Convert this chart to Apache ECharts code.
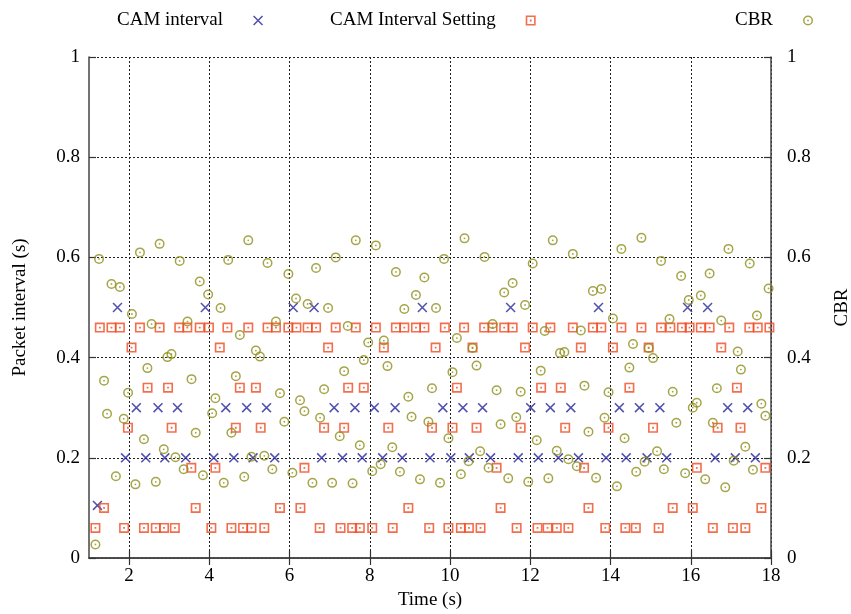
<!DOCTYPE html>
<html>
<head>
<meta charset="utf-8">
<script src="https://cdn.jsdelivr.net/npm/echarts@6/dist/echarts.min.js"></script>
<style>html,body{margin:0;padding:0;background:#fff}#c{width:851px;height:614px}</style>
</head>
<body>
<div id="c"></div>
<script>
var xTicks = [2, 4, 6, 8, 10, 12, 14, 16, 18];
var camInterval = [[1.21,0.105],[1.71,0.5],[1.91,0.2],[2.18,0.3],[2.415,0.2],[2.72,0.3],[2.89,0.2],[3.205,0.3],[3.41,0.2],[3.9,0.5],[4.11,0.2],[4.41,0.3],[4.61,0.2],[4.93,0.3],[5.09,0.2],[5.425,0.3],[5.63,0.2],[6.09,0.5],[6.61,0.5],[6.8,0.2],[7.11,0.3],[7.32,0.2],[7.63,0.3],[7.81,0.2],[8.11,0.3],[8.32,0.2],[8.63,0.3],[8.81,0.2],[9.31,0.5],[9.5,0.2],[9.82,0.3],[10.02,0.2],[10.32,0.3],[10.48,0.2],[10.81,0.3],[11.01,0.2],[11.51,0.5],[11.7,0.2],[12.01,0.3],[12.2,0.2],[12.5,0.3],[12.7,0.2],[13.01,0.3],[13.2,0.2],[13.7,0.5],[13.89,0.2],[14.22,0.3],[14.39,0.2],[14.72,0.3],[14.91,0.2],[15.23,0.3],[15.4,0.2],[15.92,0.5],[16.42,0.5],[16.61,0.2],[16.92,0.3],[17.11,0.2],[17.42,0.3],[17.61,0.2]];
var setting046 = [1.27,1.56,1.77,2.27,2.76,3.25,3.45,3.76,3.99,4.45,4.97,5.45,5.66,5.97,6.17,6.45,6.66,7.15,7.65,8.15,8.65,8.86,9.15,9.36,9.87,10.35,10.85,11.06,11.35,11.56,12.06,12.5,13.06,13.56,13.77,14.27,14.77,15.26,15.49,15.78,15.97,16.25,16.47,16.96,17.46,17.67,17.96];
var setting042 = [2.06,4.26,6.96,8.35,9.64,10.56,11.87,13.26,14.06,14.95,16.76];
var setting034 = [2.46,2.97,4.76,5.16,7.46,7.85,10.17,12.27,12.76,14.47,17.15];
var setting026 = [1.97,3.06,4.66,5.28,6.86,7.36,8.46,9.55,10.06,10.66,11.76,12.87,13.95,15.06,16.67,17.24];
var setting018 = [3.55,4.15,6.37,11.16,13.34,16.15,17.86];
var setting010 = [1.375,3.66,5.76,6.27,8.96,11.26,13.45,15.55,16.05,17.76];
var setting006 = [1.16,1.875,2.37,2.665,2.87,3.14,4.05,4.55,4.84,5.05,5.37,6.75,7.27,7.56,7.75,8.06,8.57,9.48,9.96,10.27,10.47,10.76,11.66,12.18,12.43,12.66,12.95,13.87,14.37,14.63,15.2,16.55,17.05,17.36];
var settingLevels = [[0.46, setting046],[0.42, setting042],[0.34, setting034],[0.26, setting026],[0.18, setting018],[0.10, setting010],[0.06, setting006]];
var cbr = [[1.16,0.027],[1.25,0.597],[1.375,0.354],[1.45,0.288],[1.56,0.547],[1.67,0.163],[1.77,0.541],[1.866,0.278],[1.974,0.330],[2.07,0.487],[2.157,0.147],[2.27,0.610],[2.37,0.237],[2.456,0.379],[2.56,0.467],[2.665,0.152],[2.76,0.627],[2.864,0.217],[2.955,0.401],[3.055,0.407],[3.155,0.201],[3.26,0.593],[3.36,0.177],[3.455,0.472],[3.555,0.357],[3.66,0.250],[3.76,0.552],[3.84,0.165],
[3.97,0.526],[4.07,0.289],[4.15,0.319],[4.28,0.499],[4.36,0.150],[4.47,0.595],[4.55,0.250],[4.66,0.363],[4.76,0.445],[4.87,0.162],[4.97,0.634],[5.05,0.202],[5.16,0.414],[5.26,0.402],[5.37,0.204],[5.45,0.589],[5.57,0.177],[5.66,0.472],[5.76,0.329],[5.87,0.272],[5.97,0.567],[6.07,0.170],[6.16,0.518],[6.26,0.315],[6.37,0.293],[6.45,0.507],[6.57,0.150],[6.66,0.579],[6.76,0.280],
[6.86,0.337],[6.96,0.499],[7.06,0.150],[7.15,0.600],[7.25,0.243],[7.36,0.373],[7.45,0.463],[7.57,0.149],[7.65,0.634],[7.75,0.225],[7.85,0.395],[7.96,0.430],[8.06,0.173],[8.15,0.624],[8.27,0.187],[8.35,0.434],[8.44,0.383],[8.56,0.221],[8.65,0.571],[8.75,0.172],[8.86,0.497],[8.96,0.322],[9.04,0.282],[9.15,0.525],[9.25,0.157],[9.36,0.560],[9.46,0.272],[9.55,0.339],
[9.65,0.499],[9.75,0.150],[9.85,0.597],[9.96,0.239],[10.06,0.371],[10.17,0.439],[10.27,0.167],[10.36,0.638],[10.46,0.193],[10.56,0.419],[10.66,0.384],[10.75,0.213],[10.86,0.601],[10.96,0.180],[11.06,0.467],[11.16,0.335],[11.26,0.267],[11.35,0.530],[11.45,0.159],[11.56,0.549],[11.65,0.281],[11.76,0.332],[11.87,0.505],[11.95,0.152],[12.06,0.588],[12.16,0.235],[12.26,0.374],[12.36,0.453],[12.45,0.159],
[12.56,0.634],[12.66,0.214],[12.74,0.409],[12.85,0.411],[12.95,0.197],[13.06,0.607],[13.16,0.183],[13.26,0.454],[13.35,0.344],[13.45,0.252],[13.56,0.533],[13.64,0.160],[13.77,0.537],[13.85,0.280],[13.95,0.331],[14.06,0.478],[14.16,0.143],[14.27,0.617],[14.35,0.239],[14.47,0.380],[14.56,0.427],[14.64,0.172],[14.77,0.639],[14.85,0.192],[14.95,0.419],[15.06,0.399],[15.16,0.213],[15.26,0.593],[15.33,0.177],
[15.47,0.477],[15.55,0.332],[15.64,0.270],[15.76,0.563],[15.86,0.169],[15.95,0.515],[16.05,0.300],[16.15,0.310],[16.25,0.524],[16.36,0.157],[16.47,0.568],[16.55,0.270],[16.65,0.339],[16.76,0.474],[16.86,0.141],[16.94,0.617],[17.07,0.194],[17.17,0.412],[17.25,0.376],[17.36,0.222],[17.47,0.588],[17.55,0.176],[17.65,0.484],[17.76,0.308],[17.86,0.284],[17.94,0.538]];

var settingData = [];
settingLevels.forEach(function (lv) { lv[1].forEach(function (x) { settingData.push([x, lv[0]]); }); });

var FONT = 'Liberation Serif';
var SYM_X = 'path://M0,1.1L1.1,0L10,8.9L8.9,10ZM8.9,0L10,1.1L1.1,10L0,8.9Z';
var SYM_SQ = 'path://M0,0H10V10H0ZM1.6,1.6V8.4H8.4V1.6ZM4.1,4.1H5.9V5.9H4.1Z';
var SYM_CI = 'path://M5,0A5,5,0,1,1,5,10A5,5,0,1,1,5,0ZM5,1.5A3.5,3.5,0,1,0,5,8.5A3.5,3.5,0,1,0,5,1.5ZM5,4.1A0.9,0.9,0,1,1,5,5.9A0.9,0.9,0,1,1,5,4.1Z';
var C_X = '#25259a', C_SQ = '#f04a20', C_CI = '#8f8f1c';

function legendAt(left, name, icon) {
  return {
    data: [{ name: name, icon: icon }], left: left, top: 11, padding: 0,
    align: 'right', itemWidth: 10, itemHeight: 10, selectedMode: false,
    textStyle: { fontFamily: FONT, fontSize: 19, color: '#000', padding: [0, 25, 0, 0] }
  };
}
var axisLabelStyle = { fontFamily: FONT, fontSize: 19, color: '#000' };
var axisLineStyle = { show: true, lineStyle: { color: '#444', width: 1.5 } };
var tickStyle = { show: true, inside: true, length: 7, lineStyle: { color: '#333', width: 1.2 } };

var chart = echarts.init(document.getElementById('c'), null, { renderer: 'canvas' });
chart.setOption({
  animation: false,
  backgroundColor: '#fff',
  legend: [legendAt(117, 'CAM interval', SYM_X), legendAt(330, 'CAM Interval Setting', SYM_SQ), legendAt(735, 'CBR', SYM_CI)],
  grid: { left: 89, right: 80, top: 57, bottom: 56, show: false, containLabel: false, outerBoundsMode: 'none' },
  xAxis: [{
    type: 'value', min: 1, max: 18, position: 'bottom',
    name: 'Time (s)', nameLocation: 'middle', nameGap: 28,
    nameTextStyle: { fontFamily: FONT, fontSize: 19, color: '#000' },
    axisLine: axisLineStyle, axisTick: Object.assign({ customValues: xTicks }, tickStyle),
    axisLabel: Object.assign({ customValues: xTicks, margin: 9 }, axisLabelStyle),
    splitLine: { show: true, lineStyle: { color: '#222', type: [2, 2], width: 1 } }
  }, {
    type: 'value', min: 1, max: 18, position: 'top',
    axisLine: axisLineStyle, axisTick: Object.assign({ customValues: xTicks }, tickStyle),
    axisLabel: { show: false }, splitLine: { show: false }
  }],
  yAxis: [{
    type: 'value', min: 0, max: 1, interval: 0.2, position: 'left',
    name: 'Packet interval (s)', nameLocation: 'middle', nameGap: 59, nameRotate: 90,
    nameTextStyle: { fontFamily: FONT, fontSize: 19, color: '#000' },
    axisLine: axisLineStyle, axisTick: tickStyle,
    axisLabel: Object.assign({ margin: 9 }, axisLabelStyle),
    splitLine: { show: true, lineStyle: { color: '#222', type: [2, 2], width: 1 } }
  }, {
    type: 'value', min: 0, max: 1, interval: 0.2, position: 'right',
    name: 'CBR', nameLocation: 'middle', nameGap: 62, nameRotate: 90,
    nameTextStyle: { fontFamily: FONT, fontSize: 19, color: '#000' },
    axisLine: axisLineStyle, axisTick: tickStyle,
    axisLabel: Object.assign({ margin: 16 }, axisLabelStyle),
    splitLine: { show: false }
  }],
  series: [{
    name: 'CAM interval', type: 'scatter', data: camInterval, symbol: SYM_X, symbolSize: 10,
    itemStyle: { color: C_X }, z: 3
  }, {
    name: 'CAM Interval Setting', type: 'scatter', data: settingData, symbol: SYM_SQ, symbolSize: 10,
    itemStyle: { color: C_SQ }, z: 4
  }, {
    name: 'CBR', type: 'scatter', data: cbr, yAxisIndex: 1, symbol: SYM_CI, symbolSize: 10,
    itemStyle: { color: C_CI }, z: 5
  }]
});
</script>
</body>
</html>
